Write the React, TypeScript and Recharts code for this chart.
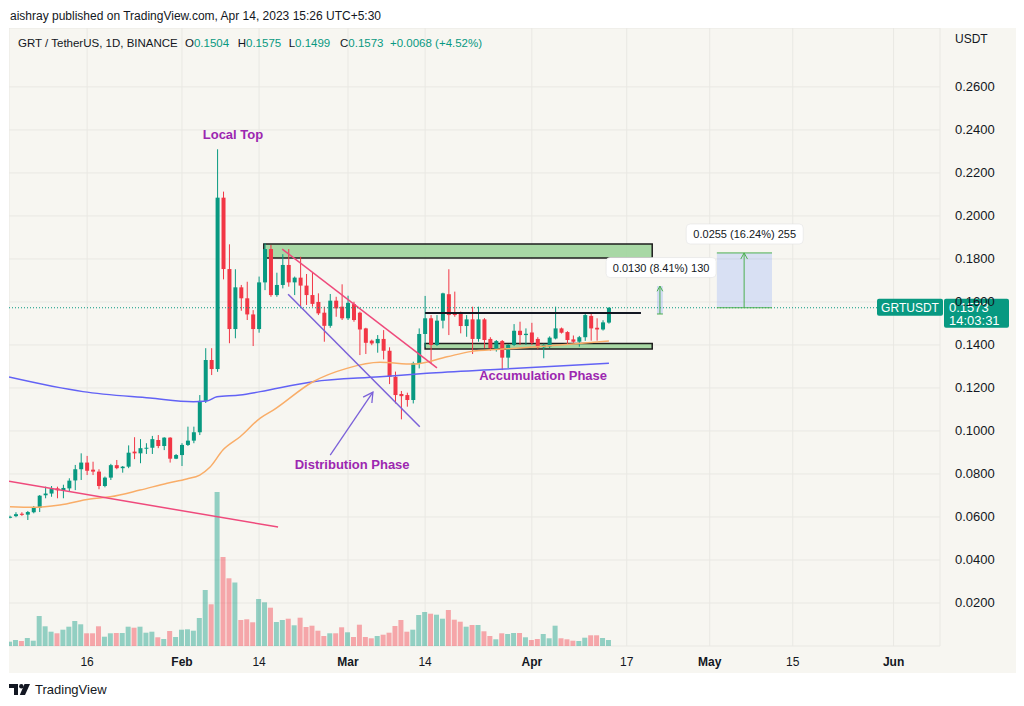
import {
  ComposedChart,
  Bar,
  Line,
  XAxis,
  YAxis,
  CartesianGrid,
  ReferenceLine,
  ReferenceArea,
  ReferenceDot,
} from 'recharts'

// daily candles, day 0 = Jan 3 2023
const opens = [
  0.0598, 0.0604, 0.0615, 0.0611, 0.0622, 0.0642, 0.0701, 0.0709, 0.0733, 0.0724,
  0.0733, 0.077, 0.0822, 0.0853, 0.082, 0.0811, 0.0744, 0.0783, 0.0841, 0.0827,
  0.0834, 0.0904, 0.0896, 0.0918, 0.0922, 0.0958, 0.093, 0.0969, 0.0871, 0.0888,
  0.0935, 0.0955, 0.0994, 0.114, 0.133, 0.1288, 0.2085, 0.1753, 0.1474, 0.1668,
  0.1617, 0.1542, 0.1474, 0.1691, 0.1846, 0.1632, 0.1679, 0.1772, 0.1691, 0.1713,
  0.1676, 0.1632, 0.16, 0.155, 0.1489, 0.1606, 0.1578, 0.1524, 0.159, 0.155,
  0.1477, 0.142, 0.1408, 0.1428, 0.1373, 0.1252, 0.1172, 0.1167, 0.1144, 0.1315,
  0.1451, 0.1524, 0.14, 0.1513, 0.1636, 0.155, 0.1546, 0.1488, 0.1519, 0.1428,
  0.1519, 0.1428, 0.138, 0.1418, 0.1341, 0.14, 0.1466, 0.1446, 0.1458, 0.1428,
  0.1389, 0.1393, 0.143, 0.1477, 0.146, 0.1426, 0.1415, 0.1436, 0.1535, 0.148,
  0.1472, 0.1504,
]
const highs = [
  0.0606, 0.0622, 0.0622, 0.0628, 0.0651, 0.0702, 0.0741, 0.0744, 0.0741, 0.075,
  0.078, 0.0842, 0.0896, 0.0884, 0.0857, 0.0822, 0.0788, 0.0847, 0.0865, 0.0837,
  0.0933, 0.0971, 0.0962, 0.0943, 0.0977, 0.0981, 0.0971, 0.0971, 0.0893, 0.0943,
  0.102, 0.102, 0.1167, 0.1385, 0.1385, 0.231, 0.2113, 0.1868, 0.1752, 0.1679,
  0.1694, 0.1562, 0.1718, 0.1873, 0.1865, 0.1736, 0.1822, 0.1846, 0.1718, 0.181,
  0.173, 0.1736, 0.164, 0.1578, 0.1637, 0.1624, 0.1682, 0.1629, 0.1601, 0.1555,
  0.148, 0.1425, 0.1446, 0.1469, 0.1389, 0.1276, 0.1186, 0.1178, 0.1322, 0.1477,
  0.1628, 0.1539, 0.1539, 0.1643, 0.1752, 0.1648, 0.1555, 0.1539, 0.1578, 0.1578,
  0.1525, 0.1436, 0.1423, 0.1423, 0.1404, 0.1497, 0.1508, 0.1477, 0.1503, 0.1436,
  0.1406, 0.144, 0.1578, 0.1481, 0.1464, 0.1444, 0.1442, 0.155, 0.155, 0.1524,
  0.1515, 0.1575,
]
const lows = [
  0.0594, 0.0599, 0.0605, 0.0586, 0.0617, 0.0623, 0.0687, 0.0694, 0.0687, 0.0687,
  0.0718, 0.0725, 0.0772, 0.0795, 0.0795, 0.0729, 0.0738, 0.0772, 0.0822, 0.0806,
  0.0827, 0.0869, 0.085, 0.0893, 0.0893, 0.092, 0.0911, 0.0853, 0.0869, 0.0837,
  0.093, 0.0943, 0.0981, 0.113, 0.126, 0.1275, 0.1705, 0.1408, 0.1431, 0.1559,
  0.1516, 0.1395, 0.1457, 0.1655, 0.1624, 0.1624, 0.1663, 0.1671, 0.1632, 0.1578,
  0.1586, 0.1578, 0.1539, 0.1415, 0.148, 0.1531, 0.1516, 0.1516, 0.1508, 0.1353,
  0.1358, 0.1399, 0.1364, 0.1333, 0.1218, 0.1128, 0.1054, 0.1113, 0.1128, 0.1291,
  0.1389, 0.1315, 0.1395, 0.1477, 0.1446, 0.1531, 0.1454, 0.1438, 0.1358, 0.1415,
  0.1385, 0.1373, 0.1369, 0.1283, 0.1291, 0.1395, 0.14, 0.14, 0.14, 0.138,
  0.1338, 0.1386, 0.1426, 0.1453, 0.1404, 0.141, 0.1392, 0.1419, 0.142, 0.142,
  0.1467, 0.1499,
]
const closes = [
  0.0601, 0.0613, 0.061, 0.0623, 0.0645, 0.0699, 0.0709, 0.073, 0.0724, 0.0735,
  0.0769, 0.0822, 0.0853, 0.0815, 0.0811, 0.0744, 0.0783, 0.0841, 0.0827, 0.0834,
  0.0899, 0.0896, 0.092, 0.0922, 0.0962, 0.093, 0.0969, 0.0871, 0.0888, 0.0935,
  0.0955, 0.0994, 0.114, 0.133, 0.1288, 0.2085, 0.1753, 0.1474, 0.1668, 0.1617,
  0.1542, 0.1474, 0.1691, 0.1846, 0.1632, 0.1679, 0.1772, 0.1691, 0.1713, 0.1676,
  0.1632, 0.1591, 0.1547, 0.1489, 0.1606, 0.157, 0.1524, 0.1596, 0.1516, 0.1472,
  0.141, 0.1407, 0.1428, 0.1373, 0.1252, 0.1167, 0.1162, 0.1144, 0.1315, 0.1451,
  0.1524, 0.14, 0.1513, 0.164, 0.1539, 0.1539, 0.1488, 0.1519, 0.1428, 0.1519,
  0.1423, 0.1385, 0.1418, 0.1341, 0.14, 0.1466, 0.1446, 0.1452, 0.141, 0.1389,
  0.14, 0.1434, 0.1477, 0.1457, 0.1423, 0.1415, 0.1436, 0.1539, 0.1477, 0.1472,
  0.1505, 0.1573,
]
// volume, relative units
const volumes = [
  4.3, 6, 5, 8, 5.3, 30, 19.7, 14.3, 12.7, 16.3,
  19.3, 25, 21.7, 12.7, 12.7, 19.7, 9.3, 12.7, 13, 13,
  19.3, 18.3, 19.3, 13.3, 14.3, 8.7, 7, 15, 9, 16.3,
  16.7, 15.3, 28, 56, 41.7, 154, 89, 67.7, 63.5, 26,
  26.7, 23.7, 47, 43.7, 38.3, 24, 26, 27.3, 20.7, 28.3,
  19, 20.3, 15.3, 10, 12.7, 12.7, 18.7, 13.7, 9, 21.3,
  9, 7.7, 10, 11.3, 13.3, 20, 26, 14.3, 16.3, 31,
  34, 32.3, 31.3, 27.3, 36, 26.3, 24.3, 19.3, 21, 21,
  14.7, 10, 6.7, 12.7, 12, 13, 13, 8.7, 6, 7,
  12, 7.7, 20.3, 7.7, 6.7, 5.3, 5, 8.3, 10.7, 10.7,
  8, 6,
]

// moving averages (day, value)
const ma200Days = [-0.17, 12.3, 23.6, 30.9, 33.2, 34.9, 38.8, 42.2, 51.1, 62.4, 70.3, 82.6, 101]
const ma200Values = [0.1251, 0.1183, 0.1153, 0.1136, 0.1139, 0.1159, 0.1167, 0.1183, 0.1229, 0.1252, 0.1268, 0.1287, 0.1315]
const ma50Days = [0, 3.9, 8.4, 13.5, 16.9, 21.9, 26.5, 29.8, 32, 33.7, 35.9, 38.8, 42.2, 44.4, 51.1, 56.8, 62.4, 68, 73.7, 77.6, 82.6, 86.5, 94.9, 101]
const ma50Values = [0.0648, 0.0645, 0.0656, 0.0684, 0.0694, 0.0725, 0.0757, 0.0777, 0.0795, 0.0831, 0.0911, 0.0973, 0.106, 0.1097, 0.1229, 0.1291, 0.1319, 0.1311, 0.1345, 0.1369, 0.138, 0.1387, 0.1404, 0.1418]

const tickDays = [13, 29, 42, 57, 70, 88, 104, 118, 132, 149]
const tickLabels = ['16', 'Feb', '14', 'Mar', '14', 'Apr', '17', 'May', '15', 'Jun']
const monthLabels = ['Feb', 'Mar', 'Apr', 'May', 'Jun']
const priceTicks = [0.02, 0.04, 0.06, 0.08, 0.1, 0.12, 0.14, 0.16, 0.18, 0.2, 0.22, 0.24, 0.26]

const lastPrice = 0.1573

const GREEN = '#089981'
const RED = '#f23645'
const PINK = '#ef4a7c'
const VIOLET = '#7b61d9'
const LABEL = '#9c27b0'
const MEASURE = '#4caf50'
const FONT = '"Liberation Sans", Arial, sans-serif'

const candles = opens.map((o, i) => ({
  d: i,
  o,
  h: highs[i],
  l: lows[i],
  c: closes[i],
  range: [lows[i], highs[i]],
  v: volumes[i],
}))
const ma200 = ma200Days.map((d, i) => ({ d, v: ma200Values[i] }))
const ma50 = ma50Days.map((d, i) => ({ d, v: ma50Values[i] }))

const X_DOMAIN: [number, number] = [-0.17, 156.83]

function Candle(props: any) {
  const { x, y, width, height, payload } = props
  if (!payload) return null
  const { o, h, l, c } = payload
  const top = Math.min(y, y + height)
  const bottom = Math.max(y, y + height)
  const at = (p: number) => (h > l ? top + ((h - p) / (h - l)) * (bottom - top) : top)
  const color = c >= o ? GREEN : RED
  const yo = at(o)
  const yc = at(c)
  const mid = x + width / 2
  return (
    <g>
      <line x1={mid} x2={mid} y1={top} y2={bottom} stroke={color} strokeWidth={1} />
      <rect x={x} y={Math.min(yo, yc)} width={width} height={Math.max(1, Math.abs(yo - yc))} fill={color} />
    </g>
  )
}

function VolumeBar(props: any) {
  const { x, y, width, height, payload } = props
  if (!payload) return null
  const color = payload.c >= payload.o ? GREEN : RED
  return <rect x={x} y={Math.min(y, y + height)} width={width} height={Math.abs(height)} fill={color} fillOpacity={0.42} />
}

function XTick(props: any) {
  const { x, y, payload } = props
  const label = tickLabels[tickDays.indexOf(payload.value)]
  const bold = monthLabels.includes(label)
  return (
    <text x={x} y={y + 18} textAnchor="middle" fontSize={12} fontFamily={FONT} fontWeight={bold ? 'bold' : 'normal'} fill="#131722">
      {label}
    </text>
  )
}

function YTick(props: any) {
  const { x, y, payload } = props
  return (
    <text x={x + 13} y={y + 4.5} textAnchor="start" fontSize={13} fontFamily={FONT} fill="#131722">
      {payload.value.toFixed(4)}
    </text>
  )
}

const arrowShape = (color: string, size: number, width: number) => (p: any) => {
  const { x1, y1, x2, y2 } = p
  const a = Math.atan2(y2 - y1, x2 - x1)
  const ax = x2 - size * Math.cos(a - 0.5)
  const ay = y2 - size * Math.sin(a - 0.5)
  const bx = x2 - size * Math.cos(a + 0.5)
  const by = y2 - size * Math.sin(a + 0.5)
  return (
    <g>
      <line x1={x1} y1={y1} x2={x2} y2={y2} stroke={color} strokeWidth={width} />
      <polyline points={`${ax},${ay} ${x2},${y2} ${bx},${by}`} fill="none" stroke={color} strokeWidth={width} />
    </g>
  )
}

const phaseText = (text: string) => (p: any) => (
  <text x={p.cx} y={p.cy + 4.5} textAnchor="middle" fontSize={13} fontWeight="bold" fontFamily={FONT} fill={LABEL}>
    {text}
  </text>
)

const measureLabel = (text: string, w: number) => (p: any) => (
  <g>
    <rect x={p.cx - w / 2} y={p.cy - 10} width={w} height={20} rx={4} fill="#ffffff" stroke="#e3e3e3" strokeWidth={0.6} />
    <text x={p.cx} y={p.cy + 4} textAnchor="middle" fontSize={11} fontFamily={FONT} fill="#131722">
      {text}
    </text>
  </g>
)

const priceTag = (p: any) => (
  <g fontFamily={FONT}>
    <rect x={p.cx - 63} y={p.cy - 9} width={66} height={17} rx={2} fill={GREEN} />
    <text x={p.cx - 30} y={p.cy + 4} textAnchor="middle" fontSize={12} fill="#fff">
      GRTUSDT
    </text>
    <rect x={p.cx + 4} y={p.cy - 9} width={65} height={29} rx={2} fill={GREEN} />
    <text x={p.cx + 9} y={p.cy + 4} fontSize={13} fill="#fff">
      {lastPrice.toFixed(4)}
    </text>
    <text x={p.cx + 9} y={p.cy + 17} fontSize={13} fill="#fff">
      14:03:31
    </text>
  </g>
)

function TvLogo() {
  return (
    <svg width={22} height={12} viewBox="0 0 22 12">
      <path d="M0 0h9v11H5V4H0z" fill="#131722" />
      <circle cx={12.3} cy={2.2} r={2.2} fill="#131722" />
      <path d="M15.5 0H21l-5 11h-5.2z" fill="#131722" />
    </svg>
  )
}

const legendParts: [string, string, number][] = [
  ['O', '0.1504', 176],
  ['H', '0.1575', 228.7],
  ['L', '0.1499', 279.7],
  ['C', '0.1573', 331],
]

export default function App() {
  return (
    <div style={{ position: 'relative', width: 1024, height: 706, background: '#ffffff', fontFamily: FONT, color: '#131722', overflow: 'hidden' }}>
      <style>{'body{margin:0}'}</style>
      <div style={{ position: 'absolute', left: 10, top: 8, fontSize: 12, lineHeight: '16px' }}>
        aishray published on TradingView.com, Apr 14, 2023 15:26 UTC+5:30
      </div>

      <div style={{ position: 'absolute', left: 9, top: 28, width: 1007, height: 645, background: '#f7f6f1' }}>
        <ComposedChart width={1007} height={645} data={candles} margin={{ top: 0, right: 0, bottom: 0, left: 0 }}>
          <CartesianGrid xAxisId="main" yAxisId="price" stroke="#e9e8e3" strokeWidth={1} />
          <XAxis
            xAxisId="main"
            dataKey="d"
            type="number"
            domain={X_DOMAIN}
            allowDataOverflow
            ticks={tickDays}
            interval={0}
            tick={XTick}
            tickLine={false}
            axisLine={false}
            tickSize={0}
            height={27}
          />
          <XAxis xAxisId="vol" dataKey="d" type="number" domain={X_DOMAIN} allowDataOverflow hide height={0} />
          <XAxis xAxisId="ma" dataKey="d" type="number" domain={X_DOMAIN} allowDataOverflow hide height={0} />
          <YAxis
            yAxisId="price"
            orientation="right"
            type="number"
            domain={[0, 0.2874]}
            allowDataOverflow
            ticks={priceTicks}
            interval={0}
            tick={YTick}
            tickLine={false}
            axisLine={false}
            tickSize={0}
            width={76}
          />
          <YAxis yAxisId="vol" type="number" domain={[0, 618]} allowDataOverflow hide width={0} />

          <Bar xAxisId="vol" yAxisId="vol" dataKey="v" barSize={5} shape={VolumeBar} isAnimationActive={false} />

          <Line xAxisId="ma" yAxisId="price" data={ma200} dataKey="v" type="monotone" stroke="#6262f5" strokeWidth={1.5} dot={false} activeDot={false} isAnimationActive={false} />
          <Line xAxisId="ma" yAxisId="price" data={ma50} dataKey="v" type="monotone" stroke="#f9ad68" strokeWidth={1.5} dot={false} activeDot={false} isAnimationActive={false} />

          <Bar xAxisId="main" yAxisId="price" dataKey="range" barSize={4} shape={Candle} isAnimationActive={false} />

          {/* resistance / support zones */}
          <ReferenceArea xAxisId="main" yAxisId="price" x1={42.8} x2={108.3} y1={0.1804} y2={0.1869} fill="#a3d6a0" fillOpacity={0.95} stroke="#1e1e1e" strokeWidth={1.5} />
          <ReferenceArea xAxisId="main" yAxisId="price" x1={70} x2={108.3} y1={0.1381} y2={0.1407} fill="#a3d6a0" fillOpacity={0.95} stroke="#1e1e1e" strokeWidth={1.5} />
          <ReferenceLine xAxisId="main" yAxisId="price" segment={[{ x: 70, y: 0.1549 }, { x: 106.4, y: 0.1549 }]} stroke="#131722" strokeWidth={2} />

          {/* trend lines */}
          <ReferenceLine xAxisId="main" yAxisId="price" segment={[{ x: -0.17, y: 0.0766 }, { x: 45.2, y: 0.0553 }]} stroke={PINK} strokeWidth={1.5} />
          <ReferenceLine xAxisId="main" yAxisId="price" segment={[{ x: 45.9, y: 0.1846 }, { x: 72, y: 0.1293 }]} stroke={PINK} strokeWidth={1.5} />
          <ReferenceLine xAxisId="main" yAxisId="price" segment={[{ x: 46.9, y: 0.1636 }, { x: 69.1, y: 0.102 }]} stroke={VIOLET} strokeWidth={1.5} />
          <ReferenceLine
            xAxisId="main"
            yAxisId="price"
            segment={[{ x: 54, y: 0.0888 }, { x: 61.2, y: 0.1181 }]}
            stroke={VIOLET}
            shape={arrowShape(VIOLET, 11, 1.3)}
          />

          {/* last price */}
          <ReferenceLine xAxisId="main" yAxisId="price" y={lastPrice} stroke={GREEN} strokeDasharray="1 2" strokeWidth={1} />

          {/* price range measures */}
          <ReferenceArea xAxisId="main" yAxisId="price" x1={109.1} x2={110.1} y1={0.1544} y2={0.1674} fill="#2962ff" fillOpacity={0.18} stroke="none" />
          <ReferenceLine xAxisId="main" yAxisId="price" segment={[{ x: 109.1, y: 0.1544 }, { x: 110.1, y: 0.1544 }]} stroke={MEASURE} strokeWidth={1} />
          <ReferenceLine
            xAxisId="main"
            yAxisId="price"
            segment={[{ x: 109.6, y: 0.1544 }, { x: 109.6, y: 0.1674 }]}
            stroke={MEASURE}
            shape={arrowShape(MEASURE, 6, 1)}
          />
          <ReferenceArea xAxisId="main" yAxisId="price" x1={119.2} x2={128.5} y1={lastPrice} y2={0.1828} fill="#2962ff" fillOpacity={0.15} stroke="none" />
          <ReferenceLine xAxisId="main" yAxisId="price" segment={[{ x: 119.2, y: 0.1828 }, { x: 128.5, y: 0.1828 }]} stroke={MEASURE} strokeWidth={1} />
          <ReferenceLine xAxisId="main" yAxisId="price" segment={[{ x: 119.2, y: lastPrice }, { x: 128.5, y: lastPrice }]} stroke={MEASURE} strokeWidth={1} />
          <ReferenceLine
            xAxisId="main"
            yAxisId="price"
            segment={[{ x: 123.8, y: lastPrice }, { x: 123.8, y: 0.1828 }]}
            stroke={MEASURE}
            shape={arrowShape(MEASURE, 7, 1)}
          />
          <ReferenceDot xAxisId="main" yAxisId="price" x={109.8} y={0.176} r={0} shape={measureLabel('0.0130 (8.41%) 130', 110)} />
          <ReferenceDot xAxisId="main" yAxisId="price" x={123.9} y={0.1916} r={0} shape={measureLabel('0.0255 (16.24%) 255', 117)} />

          {/* phase labels */}
          <ReferenceDot xAxisId="main" yAxisId="price" x={37.6} y={0.2381} r={0} shape={phaseText('Local Top')} />
          <ReferenceDot xAxisId="main" yAxisId="price" x={57.7} y={0.0846} r={0} shape={phaseText('Distribution Phase')} />
          <ReferenceDot xAxisId="main" yAxisId="price" x={89.9} y={0.1256} r={0} shape={phaseText('Accumulation Phase')} />

          <ReferenceDot xAxisId="main" yAxisId="price" x={X_DOMAIN[1]} y={lastPrice} r={0} ifOverflow="visible" shape={priceTag} />
        </ComposedChart>

        <div style={{ position: 'absolute', left: 9, top: 7, fontSize: 11.5, lineHeight: '16px', whiteSpace: 'nowrap' }}>
          GRT / TetherUS, 1D, BINANCE
        </div>
        {legendParts.map(([k, v, left]) => (
          <div key={k} style={{ position: 'absolute', left, top: 7, fontSize: 11.5, lineHeight: '16px', whiteSpace: 'nowrap' }}>
            {k}
            <span style={{ color: GREEN }}>{v}</span>
          </div>
        ))}
        <div style={{ position: 'absolute', left: 381, top: 7, fontSize: 11.5, lineHeight: '16px', color: GREEN, whiteSpace: 'nowrap' }}>
          +0.0068 (+4.52%)
        </div>
        <div style={{ position: 'absolute', left: 946, top: 3, fontSize: 12, lineHeight: '16px' }}>USDT</div>
      </div>

      <div style={{ position: 'absolute', left: 9, top: 683, display: 'flex', alignItems: 'center', gap: 4 }}>
        <TvLogo />
        <span style={{ fontSize: 13, lineHeight: '14px' }}>TradingView</span>
      </div>
    </div>
  )
}
